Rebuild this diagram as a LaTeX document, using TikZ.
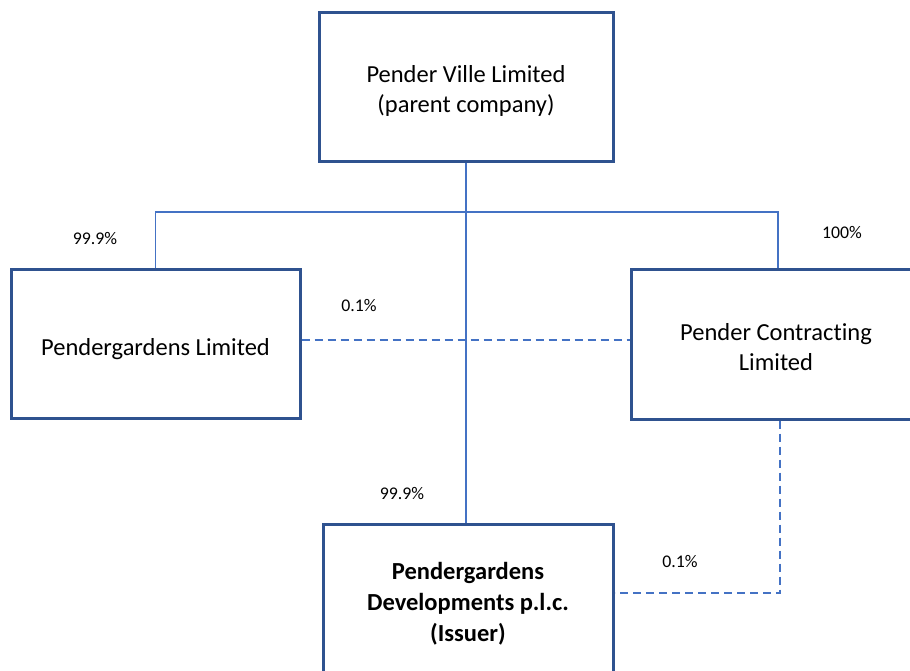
\documentclass[tikz,border=0pt]{standalone}
\usepackage{fontspec}
\setmainfont{Carlito}[Ligatures=NoCommon]
\usetikzlibrary{positioning}
\definecolor{boxblue}{HTML}{2F528F}
\definecolor{lineblue}{HTML}{4472C4}
\newcommand{\lift}[1]{\rule{0pt}{#1}}

\begin{document}
\begin{tikzpicture}[x=1pt,y=-1pt,
		entity/.style={draw=boxblue, line width=3pt, rectangle, align=center, minimum width=290pt, minimum height=150pt, font=\fontsize{24.5}{30}\selectfont},
		share/.style={font=\fontsize{17.8}{20}\selectfont},
		own/.style={draw=lineblue, line width=1.5pt},
		minor/.style={own, dash pattern=on 8pt off 5pt}]
			\useasboundingbox (0,0) rectangle (910,671);
			\clip (0,0) rectangle (910,671);
			\node[entity, minimum width=294pt, minimum height=149pt] (PV) at (466,87.5) {\lift{24pt}Pender Ville Limited\\(parent company)};
			\node[entity, minimum width=289pt, minimum height=149pt, text height=30pt, text depth=6pt] (PG) at (155.5,343.5) {Pendergardens Limited};
			\node[entity] (PC) at (776,344) {\lift{24pt}Pender Contracting\\Limited};
			\node[entity, minimum height=154pt, font=\fontsize{24.5}{31}\selectfont\bfseries] (PD) at (468,601) {\lift{22pt}Pendergardens\\Developments p.l.c.\\(Issuer)};
			\coordinate (bar) at (466,212);
			\node[share] (s1) at (95,239) {99.9\%};
			\node[share] (s2) at (842,233) {100\%};
			\node[share] (s3) at (359,306) {0.1\%};
			\node[share] (s4) at (402,493) {99.9\%};
			\node[share] (s5) at (680,561) {0.1\%};
			\draw[own] (PV.south -| bar) -- (PD.north -| bar);
			\draw[own] (PG.north) |- (bar) -| ([xshift=2pt]PC.north);
			\draw[minor] ([yshift=3.5pt]PG.east) -- ([yshift=4pt]PC.west);
			\draw[minor] ([xshift=4pt]PC.south) |- ([yshift=8pt]PD.east);
		\end{tikzpicture}
\end{document}
